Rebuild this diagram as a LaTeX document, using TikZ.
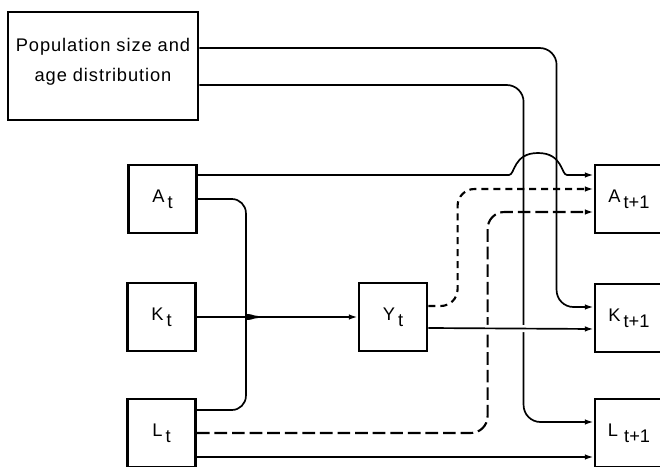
\documentclass[tikz,border=0pt]{standalone}
\usepackage{fontspec}
\setmainfont{Liberation Sans}
\usetikzlibrary{arrows.meta,calc}
\tikzset{
  stock/.style={draw=black,line width=2pt,minimum width=1.7cm,
                minimum height=1.7cm,inner sep=0pt,align=center,
                font=\fontsize{13}{15}\selectfont},
  popbox/.style={draw=black,line width=2pt,minimum width=4.75cm,
                 minimum height=2.7cm,inner sep=0pt,align=center,
                 font=\fontsize{13}{21.5}\selectfont\addfontfeature{LetterSpace=5}},
  flow/.style={-{Latex[length=2.2mm,width=1.4mm]},line width=1.2pt},
  shortdash/.style={line width=1.5pt,dash pattern=on 5pt off 3.5pt},
  longdash/.style={line width=1.5pt,dash pattern=on 9pt off 3.5pt}
}
\newcommand{\tsub}[2]{#1\,\raisebox{-0.6ex}{#2}}

\begin{document}
\begin{tikzpicture}[x=0.025cm,y=-0.025cm]
  \clip (0,0) rectangle (660,467);

  % Population block
  \node[popbox] (pop) at (103,66) {Population size and\\age distribution\\[-13pt]};

  % Period t
  \node[stock] (At) at (162.5,199) {\tsub{A}{t}};
  \node[stock] (Kt) at (161.5,317) {\tsub{K}{t}};
  \node[stock] (Lt) at (161.5,433) {\tsub{L}{t}};
  \node[stock] (Yt) at (393,317) {\tsub{Y}{t}};

  % Period t+1 (cut by the right margin)
  \node[stock] (An) at (629,199) {\tsub{A}{t+1}};
  \node[stock] (Kn) at (629,318) {\tsub{K}{t+1}};
  \node[stock] (Ln) at (629,433) {\tsub{L\,}{t+1}};

  % Population to next capital and labour
  \draw[flow,rounded corners=12pt] ($(pop.east)+(0,-18)$) -| ($(Kn.west)+(-37,-11)$) -- ($(Kn.west)+(0,-11)$);
  \draw[flow,rounded corners=12pt] ($(pop.east)+(0,19)$) -| ($(Ln.west)+(-70,-11)$) -- ($(Ln.west)+(0,-11)$);

  % Technology carried over, hopping the population lines
  \draw[flow] ($(At.east)+(0,-24)$) -- (509,175)
    .. controls (515,175) and (513,153) .. (538,153)
    .. controls (563,153) and (561,175) .. (567,175) -- ($(An.west)+(0,-24)$);

  % Inputs joined into output
  \coordinate (join) at ($(Kt.east)+(62,0)$);
  \draw[line width=1.2pt,rounded corners=10pt] (At.east) -| ($(join)+(-13,-14)$)
    .. controls +(0,9) and +(-6,0) .. (join);
  \draw[line width=1.2pt,rounded corners=10pt] ($(Lt.east)+(0,-23)$) -| ($(join)+(-13,14)$)
    .. controls +(0,-9) and +(-6,0) .. (join);
  \draw[flow] (Kt.east) -- (Yt.west);

  % Dashed feedbacks into technology
  \draw[flow,shortdash,rounded corners=12pt] ($(Yt.east)+(0,-11)$) -| ($(An.west)+(-136,-10)$) -- ($(An.west)+(0,-10)$);
  \draw[flow,longdash,rounded corners=12pt] (Lt.east) -| ($(An.west)+(-106,13)$) -- ($(An.west)+(0,13)$);

  % Output to capital, with gaps in the crossing lines
  \draw[white,line width=5pt] ($(Yt.east)+(20,11)$) -- ($(Kn.west)+(-20,11)$);
  \draw[flow] ($(Yt.east)+(0,11)$) -- ($(Kn.west)+(0,11)$);

  % Labour carried over
  \draw[flow] ($(Lt.east)+(0,24)$) -- ($(Ln.west)+(0,24)$);
\end{tikzpicture}
\end{document}
